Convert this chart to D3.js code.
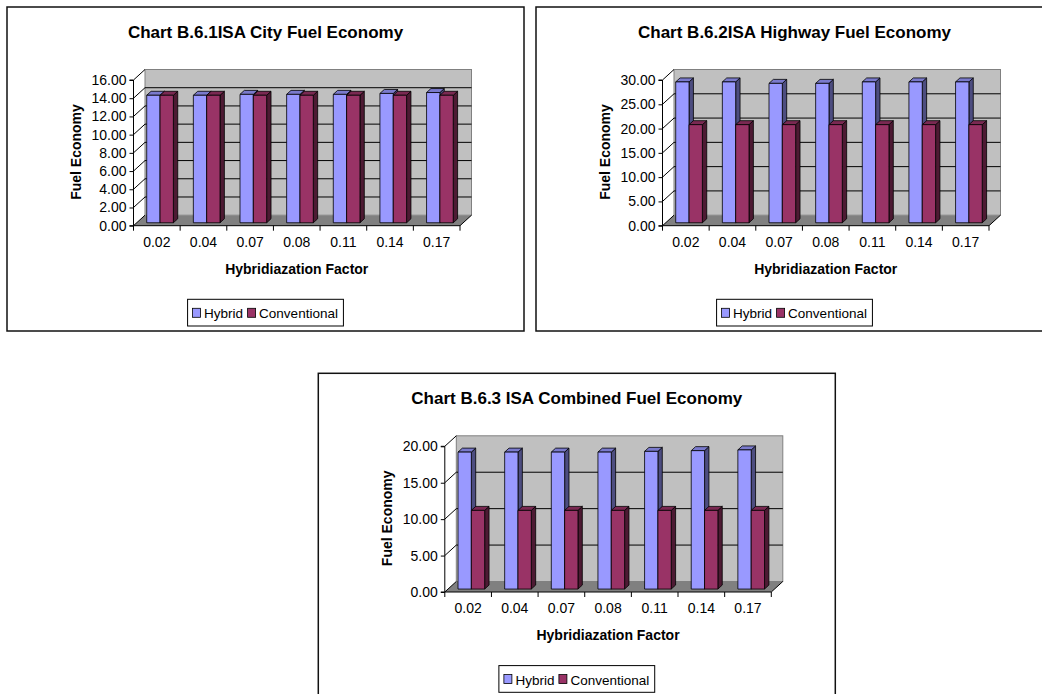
<!DOCTYPE html>
<html><head><meta charset="utf-8">
<script src="https://cdn.jsdelivr.net/npm/d3@7/dist/d3.min.js"></script>
<style>
body{margin:0;background:#fff;}
text{font-family:"Liberation Sans",Arial,sans-serif;}
</style></head>
<body><svg id="c" width="1042" height="694"></svg>
<script>
const categories = ["0.02","0.04","0.07","0.08","0.11","0.14","0.17"];
const seriesNames = ["Hybrid","Conventional"];

const cityHybrid = [14.0,14.0,14.1,14.1,14.1,14.2,14.3];
const cityConventional = [14.0,14.0,14.0,14.0,14.0,14.0,14.0];
const cityTicks = [0,2,4,6,8,10,12,14,16];

const highwayHybrid = [29.0,29.0,28.7,28.7,29.0,29.0,29.0];
const highwayConventional = [20.2,20.2,20.2,20.2,20.2,20.2,20.2];
const highwayTicks = [0,5,10,15,20,25,30];

const combinedHybrid = [18.8,18.8,18.8,18.8,18.9,19.0,19.1];
const combinedConventional = [10.8,10.8,10.8,10.8,10.8,10.8,10.8];
const combinedTicks = [0,5,10,15,20];

const titles = ["Chart B.6.1ISA City Fuel Economy","Chart B.6.2ISA Highway Fuel Economy","Chart B.6.3 ISA Combined Fuel Economy"];
const xTitle = "Hybridiazation Factor";
const yTitle = "Fuel Economy";

const colors = {
  Hybrid: {front:"#9999ff", side:"#4d4d80", top:"#7a7acc"},
  Conventional: {front:"#993366", side:"#4d1a33", top:"#7a2952"}
};

const svg = d3.select("#c");
const W = 517, H = 324;
const plotL = 126.5, plotR = 453, y0 = 218.7, yTopPx = 73;
const D = {x:11.5, y:-10.5};
const f0 = 0.28, f1 = 0.66;

function drawChart(ox, oy, title, hyb, conv, ticks) {
  const g = svg.append("g").attr("transform", `translate(${ox},${oy})`);
  g.append("rect").attr("x",0).attr("y",0).attr("width",W).attr("height",H)
    .attr("fill","#fff").attr("stroke","#111").attr("stroke-width",1.5);

  g.append("text").attr("x", W/2).attr("y", 31).attr("text-anchor","middle")
    .attr("font-weight","bold").attr("font-size",17).text(title);

  const x = d3.scaleBand().domain(categories).range([plotL, plotR]).paddingInner(0).paddingOuter(0);
  const xs = d3.scaleBand().domain(seriesNames).range([0, x.bandwidth()]).paddingInner(0).paddingOuter(0.75);
  const yMax = ticks[ticks.length-1];
  const y = d3.scaleLinear().domain([0, yMax]).range([y0, yTopPx]);

  // floor
  g.append("path").attr("d", `M${plotL},${y0}L${plotR},${y0}L${plotR+D.x},${y0+D.y}L${plotL+D.x},${y0+D.y}Z`)
    .attr("fill","#808080").attr("stroke","none");
  // back wall
  g.append("rect").attr("x", plotL+D.x).attr("y", y(yMax)+D.y)
    .attr("width", plotR-plotL).attr("height", y0 - y(yMax))
    .attr("fill","#c0c0c0").attr("stroke","#808080").attr("stroke-width",1);
  // gridlines on back wall and side wall
  ticks.forEach(t => {
    if (t === 0) return;
    const yy = y(t);
    if (t !== yMax) {
      g.append("line").attr("x1", plotL+D.x).attr("x2", plotR+D.x).attr("y1", yy+D.y).attr("y2", yy+D.y)
        .attr("stroke","#000").attr("stroke-width",1);
    }
    g.append("line").attr("x1", plotL).attr("x2", plotL+D.x).attr("y1", yy).attr("y2", yy+D.y)
      .attr("stroke","#000").attr("stroke-width",1);
  });
  // floor edges
  g.append("line").attr("x1", plotL).attr("y1", y0).attr("x2", plotL+D.x).attr("y2", y0+D.y).attr("stroke","#000");
  g.append("line").attr("x1", plotR).attr("y1", y0).attr("x2", plotR+D.x).attr("y2", y0+D.y).attr("stroke","#000");

  // bars
  const data = categories.map((c,i) => ({c, vals:[{s:"Hybrid", v:hyb[i]},{s:"Conventional", v:conv[i]}]}));
  const dx0 = f0*D.x, dy0 = f0*D.y, ddx = (f1-f0)*D.x, ddy = (f1-f0)*D.y;
  data.forEach(d => {
    d.vals.forEach(b => {
      const x1 = x(d.c) + xs(b.s) + dx0, x2 = x1 + xs.bandwidth();
      const yt = y(b.v) + dy0, yb = y(0) + dy0;
      const col = colors[b.s];
      const bg = g.append("g").attr("stroke","#000").attr("stroke-width",0.8).attr("stroke-linejoin","round");
      bg.append("path").attr("d", `M${x2},${yt}L${x2+ddx},${yt+ddy}L${x2+ddx},${yb+ddy}L${x2},${yb}Z`).attr("fill", col.side);
      bg.append("path").attr("d", `M${x1},${yt}L${x2},${yt}L${x2+ddx},${yt+ddy}L${x1+ddx},${yt+ddy}Z`).attr("fill", col.top);
      bg.append("rect").attr("x", x1).attr("y", yt).attr("width", x2-x1).attr("height", yb-yt).attr("fill", col.front);
    });
  });

  // y axis
  const ya = g.append("g").attr("transform", `translate(${plotL},0)`)
    .call(d3.axisLeft(y).tickValues(ticks).tickFormat(d3.format(".2f")).tickSize(4).tickPadding(3));
  ya.select(".domain").attr("stroke","#000").attr("d", `M-4,${y(yMax)}H0V${y0}H-4`);
  ya.selectAll(".tick line").attr("stroke","#000");
  ya.selectAll(".tick text").attr("font-size",14).attr("fill","#000").attr("font-family","Liberation Sans, Arial, sans-serif");

  // x axis
  const xa = g.append("g").attr("transform", `translate(0,${y0})`)
    .call(d3.axisBottom(x).tickSize(0).tickPadding(11));
  xa.select(".domain").attr("stroke","#000").attr("d", `M${plotL},0H${plotR}`);
  xa.selectAll(".tick text").attr("font-size",14).attr("fill","#000").attr("font-family","Liberation Sans, Arial, sans-serif");
  const bounds = categories.map(c => x(c)).concat([plotR]);
  xa.selectAll("line.bt").data(bounds).join("line").attr("class","bt")
    .attr("x1", d=>d).attr("x2", d=>d).attr("y1",0).attr("y2",5).attr("stroke","#000");

  // axis titles
  g.append("text").attr("x", (plotL+plotR)/2).attr("y", 267).attr("text-anchor","middle")
    .attr("font-weight","bold").attr("font-size",14).text(xTitle);
  g.append("text").attr("transform", "translate(74,145) rotate(-90)").attr("text-anchor","middle")
    .attr("font-weight","bold").attr("font-size",14).text(yTitle);

  // legend
  const lg = g.append("g");
  const box = lg.append("rect").attr("fill","#fff").attr("stroke","#000").attr("stroke-width",1);
  let cx = 5;
  seriesNames.forEach(s => {
    const it = lg.append("g");
    it.append("rect").attr("x", cx).attr("y", 9).attr("width",8).attr("height",9)
      .attr("fill", colors[s].front).attr("stroke","#000").attr("stroke-width",0.8);
    const t = it.append("text").attr("x", cx+11.5).attr("y", 19).attr("font-size",13.5).text(s);
    cx += 11.5 + t.node().getComputedTextLength() + 4.5;
  });
  const lw = cx + 1;
  box.attr("x",0).attr("y",0).attr("width", lw).attr("height", 26.7);
  lg.attr("transform", `translate(${W/2 - lw/2},292.3)`);
}

drawChart(7, 7, titles[0], cityHybrid, cityConventional, cityTicks);
drawChart(536, 7, titles[1], highwayHybrid, highwayConventional, highwayTicks);
drawChart(318.3, 373.3, titles[2], combinedHybrid, combinedConventional, combinedTicks);
</script></body></html>
